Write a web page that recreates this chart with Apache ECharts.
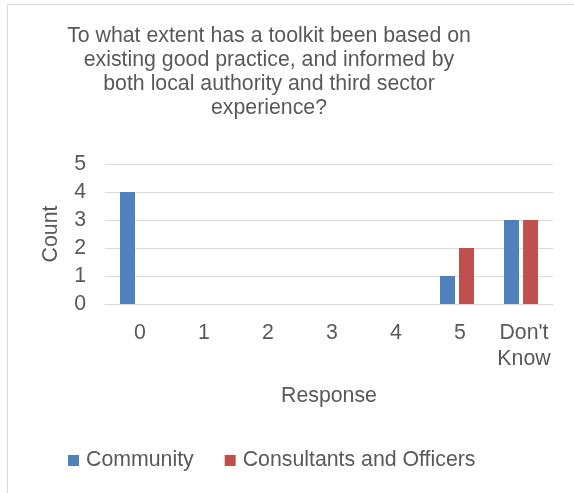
<!DOCTYPE html>
<html>
<head>
<meta charset="utf-8">
<script src="https://cdn.jsdelivr.net/npm/echarts@6/dist/echarts.min.js"></script>
<style>
html,body{margin:0;padding:0;background:#fff;}
#c{width:574px;height:493px;}
</style>
</head>
<body>
<div id="c"></div>
<script>
const categories = ['0', '1', '2', '3', '4', '5', "Don't\nKnow"];
const community = [4, 0, 0, 0, 0, 1, 3];
const consultants = [0, 0, 0, 0, 0, 2, 3];
const yTicks = [0, 1, 2, 3, 4, 5];
const titleLines = [
  'To what extent has a toolkit been based on',
  'existing good practice, and informed by',
  'both local authority and third sector',
  'experience?'
];

const FONT = '"Liberation Sans", Arial, sans-serif';
const TXT = '#595959';
const FS = 21.3;

const chart = echarts.init(document.getElementById('c'), null, {renderer: 'canvas'});
chart.setOption({
  animation: false,
  backgroundColor: '#fff',
  textStyle: {fontFamily: FONT, color: TXT},
  graphic: [
    {type: 'rect', left: 5, top: 2, z: -1, silent: true,
     shape: {x: 0.5, y: 0.5, width: 620, height: 620},
     style: {fill: 'none', stroke: '#D9D9D9', lineWidth: 1}},
    {type: 'text', x: 269, y: 24, silent: true,
     style: {text: titleLines.join('\n'), fill: TXT, font: FS + 'px ' + FONT,
             textAlign: 'center', textVerticalAlign: 'top', lineHeight: 24}}
  ],
  grid: {left: 105, right: 21, top: 164, bottom: 189, containLabel: false},
  legend: {
    left: 68, top: 450, padding: 0, itemWidth: 11, itemHeight: 11, itemGap: 31,
    icon: 'rect',
    textStyle: {fontFamily: FONT, fontSize: FS, color: TXT, padding: [0, 0, 0, 2]},
    data: ['Community', 'Consultants and Officers']
  },
  xAxis: {
    type: 'category', data: categories,
    name: 'Response', nameLocation: 'middle', nameGap: 82,
    nameTextStyle: {fontFamily: FONT, fontSize: FS, color: TXT},
    axisLine: {show: true, lineStyle: {color: '#D9D9D9', width: 1}},
    axisTick: {show: false},
    axisLabel: {fontFamily: FONT, fontSize: FS, color: TXT, margin: 16, lineHeight: 26,
      interval: 0, padding: [0, 0, 0, 6]}
  },
  yAxis: {
    type: 'value', min: 0, max: 5, interval: 1,
    name: 'Count', nameLocation: 'middle', nameGap: 43, nameRotate: 90,
    nameTextStyle: {fontFamily: FONT, fontSize: FS, color: TXT},
    axisLine: {show: false}, axisTick: {show: false},
    splitLine: {lineStyle: {color: '#D9D9D9', width: 1}},
    axisLabel: {fontFamily: FONT, fontSize: FS, color: TXT, margin: 19,
      formatter: v => yTicks.includes(v) ? String(v) : ''}
  },
  series: [
    {name: 'Community', type: 'bar', data: community, barWidth: 15, barGap: '27%',
     itemStyle: {color: '#4F81BD'}},
    {name: 'Consultants and Officers', type: 'bar', data: consultants, barWidth: 15, barGap: '27%',
     itemStyle: {color: '#C0504D'}}
  ]
});
</script>
</body>
</html>
